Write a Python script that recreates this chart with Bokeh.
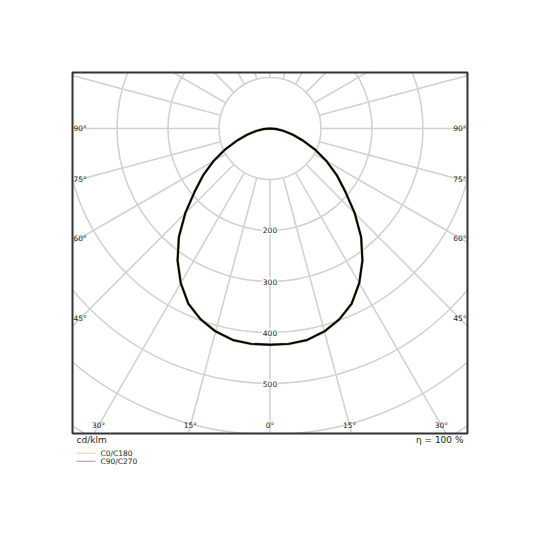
import numpy as np
from bokeh.plotting import figure
from bokeh.models import Range1d, Label
from bokeh.core.properties import value
from bokeh.embed import file_html
from bokeh.resources import INLINE

# ---- data (cd/klm vs. gamma angle in degrees) ----
gamma = [0, 5, 10, 15, 20, 25, 30, 35, 40, 45, 50, 55, 60, 65, 70, 75, 80, 85, 90]
c0_c180 = [424, 424, 421, 412, 398, 379, 350, 316, 278, 235, 193, 160, 128, 97, 68, 46, 27, 12, 0]
c90_c270 = [424, 424, 421, 412, 398, 379, 350, 316, 278, 235, 193, 160, 128, 97, 68, 46, 27, 12, 0]
ring_values = [100, 200, 300, 400, 500, 600, 700]
ring_labels = [200, 300, 400, 500]
side_angles = [45, 60, 75, 90]
bottom_angles = [0, 15, 30]
unit_text = "cd/klm"
eff_text = "η = 100 %"
series_names = ["C0/C180", "C90/C270"]
series_colors = ["#f7cf9a", "#9a9a9a"]

FONT = "DejaVu Sans"
GRID = "#d2d2d2"
TXT = "#222222"

# diagram box (in cd/klm units, centre of the polar plot at 0,0)
BOX_L, BOX_R, BOX_B, BOX_T = -387.25, 387.25, -598.0, 109.8
XR = (-391.2, 391.2)
YR = (-752.9, 113.7)
M = 300  # mask overhang beyond the visible range

p = figure(width=524, height=522,
           x_range=Range1d(*XR), y_range=Range1d(*YR),
           x_axis_type=None, y_axis_type=None,
           output_backend="svg", toolbar_location=None,
           min_border_left=70, min_border_top=70,
           min_border_right=55, min_border_bottom=10)
p.outline_line_color = None
p.background_fill_color = "white"
p.border_fill_color = "white"

# rings
n = len(ring_values)
p.circle(x=[0] * n, y=[0] * n, radius=ring_values, fill_color=None,
         line_color=GRID, line_width=1.6)

# radial lines every 15 degrees, from the innermost ring to past the box corners
ang = np.deg2rad(np.arange(0, 360, 15))
r0, r1 = ring_values[0], 715
p.segment(x0=r0 * np.sin(ang), y0=-r0 * np.cos(ang),
          x1=r1 * np.sin(ang), y1=-r1 * np.cos(ang),
          line_color=GRID, line_width=1.6)

def curve(vals):
    g = np.array(gamma, dtype=float)
    v = np.array(vals, dtype=float)
    gg = np.concatenate([-g[::-1], g[1:]])
    vv = np.concatenate([v[::-1], v[1:]])
    a = np.deg2rad(gg)
    return vv * np.sin(a), -vv * np.cos(a)

x1, y1 = curve(c0_c180)
x2, y2 = curve(c90_c270)
p.line(x1, y1, line_color=series_colors[0], line_width=3.0)
p.line(x2, y2, line_color=series_colors[1], line_width=2.4)
p.line(x1, y1, line_color="#000000", line_width=1.9, line_join="round")

# white masks outside the diagram box
p.quad(left=[XR[0] - M, BOX_R, XR[0] - M, XR[0] - M],
       right=[BOX_L, XR[1] + M, XR[1] + M, XR[1] + M],
       bottom=[YR[0] - M, YR[0] - M, BOX_T, YR[0] - M],
       top=[YR[1] + M, YR[1] + M, YR[1] + M, BOX_B],
       fill_color="white", line_color=None)

# box outline
p.quad(left=[BOX_L], right=[BOX_R], bottom=[BOX_B], top=[BOX_T],
       fill_color=None, line_color="#333333", line_width=2)

# ring value labels on the 0° ray
for v in ring_labels:
    p.add_layout(Label(x=0, y=-v, text=str(v), text_align="center",
                       text_baseline="middle", text_font=FONT,
                       text_font_size="7.5px", text_color=TXT,
                       background_fill_color="white", padding=1))

# angle labels on the sides
side_x = 372.5
for a in side_angles:
    ar = np.deg2rad(a)
    yy = -side_x * np.cos(ar) / np.sin(ar)
    for sx in (-1, 1):
        p.add_layout(Label(x=sx * side_x, y=yy, text=f"{a}°", text_align="center",
                           text_baseline="middle", text_font=FONT,
                           text_font_size="7.5px", text_color=TXT))

# angle labels at the bottom
bot_y = -582.4
for a in bottom_angles:
    ar = np.deg2rad(a)
    xx = -bot_y * np.tan(ar)
    sides = (1,) if a == 0 else (-1, 1)
    for sx in sides:
        p.add_layout(Label(x=sx * xx, y=bot_y, text=f"{a}°", text_align="center",
                           text_baseline="middle", text_font=FONT,
                           text_font_size="7.5px", text_color=TXT))

# ---- footer: unit, efficiency and legend ----
foot_y = -610.4
p.text(x=[-379.4], y=[foot_y], text=[unit_text], text_align="left",
       text_baseline="middle", text_font=value(FONT), text_font_size="9px",
       text_color=TXT)
p.text(x=[379.4], y=[foot_y], text=[eff_text], text_align="right",
       text_baseline="middle", text_font=value(FONT), text_font_size="9px",
       text_color=TXT)

leg_y = [-636.7, -652.4]
for i, name in enumerate(series_names):
    p.segment(x0=[-379.4], y0=[leg_y[i]], x1=[-342.2], y1=[leg_y[i]],
              line_color=series_colors[i], line_width=1.2)
    p.text(x=[-332.4], y=[leg_y[i]], text=[name], text_align="left",
           text_baseline="middle", text_font=value(FONT),
           text_font_size="7.5px", text_color=TXT)

open("out.html", "w").write(file_html(p, INLINE))
